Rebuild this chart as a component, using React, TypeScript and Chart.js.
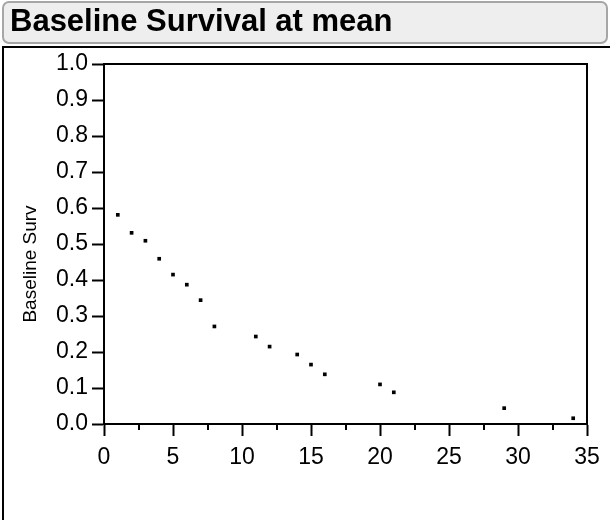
import React, { useEffect, useRef } from "react";
import { Chart, registerables } from "chart.js";

Chart.register(...registerables);

const timePoints = [1, 2, 3, 4, 5, 6, 7, 8, 11, 12, 14, 15, 16, 20, 21, 29, 34];
const survival = [0.581, 0.531, 0.509, 0.459, 0.415, 0.387, 0.344, 0.271, 0.243, 0.215, 0.193, 0.165, 0.138, 0.110, 0.088, 0.044, 0.016];
const xMinorTicks = [2.5, 7.5, 12.5, 17.5, 22.5, 27.5, 32.5];
const titleText = "Baseline Survival at mean";
const yAxisTitle = "Baseline Surv";

const FONT = '"Liberation Sans", Arial, Helvetica, sans-serif';

const framePlugin = {
  id: "frameAndMinor",
  afterDraw(chart: any) {
    const { ctx, chartArea, scales } = chart;
    ctx.save();
    ctx.strokeStyle = "#000";
    ctx.lineWidth = 2;
    // top and right frame lines
    ctx.beginPath();
    ctx.moveTo(chartArea.left, chartArea.top);
    ctx.lineTo(chartArea.right, chartArea.top);
    ctx.lineTo(chartArea.right, chartArea.bottom);
    ctx.stroke();
    // minor x ticks
    const xs = scales.x;
    ctx.beginPath();
    for (const v of xMinorTicks) {
      const px = Math.round(xs.getPixelForValue(v));
      ctx.moveTo(px, chartArea.bottom);
      ctx.lineTo(px, chartArea.bottom + 6);
    }
    ctx.stroke();
    // y axis title
    ctx.fillStyle = "#000";
    ctx.font = "19px " + FONT;
    ctx.textAlign = "center";
    ctx.textBaseline = "alphabetic";
    ctx.translate(36, 264);
    ctx.rotate(-Math.PI / 2);
    ctx.fillText(yAxisTitle, 0, 0);
    ctx.restore();
  },
};

export default function App() {
  const ref = useRef<HTMLCanvasElement | null>(null);

  useEffect(() => {
    if (!ref.current) return;
    const chart = new Chart(ref.current, {
      type: "scatter",
      data: {
        datasets: [
          {
            data: timePoints.map((t, i) => ({ x: t, y: survival[i] })),
            pointStyle: "rect",
            pointRadius: 2.6,
            pointBorderWidth: 0,
            backgroundColor: "#000",
            borderColor: "#000",
          },
        ],
      },
      options: {
        animation: false,
        responsive: false,
        maintainAspectRatio: false,
        layout: { padding: { top: 64, right: 23, left: 0, bottom: 0 } },
        plugins: {
          legend: { display: false },
          tooltip: { enabled: false },
          title: { display: false },
        },
        scales: {
          x: {
            type: "linear",
            min: 0,
            max: 35,
            afterFit: (s: any) => {
              s.height = 96;
            },
            ticks: {
              stepSize: 5,
              color: "#000",
              padding: 8,
              font: { family: FONT, size: 23 },
              maxRotation: 0,
            },
            grid: {
              drawOnChartArea: false,
              drawTicks: true,
              tickLength: 12,
              tickWidth: 2,
              tickColor: "#000",
            },
            border: { display: true, color: "#000", width: 2 },
          },
          y: {
            type: "linear",
            min: 0,
            max: 1,
            afterFit: (s: any) => {
              s.width = 104;
            },
            ticks: {
              stepSize: 0.1,
              color: "#000",
              padding: 4,
              font: { family: FONT, size: 23 },
              callback: (v: any) => Number(v).toFixed(1),
            },
            grid: {
              drawOnChartArea: false,
              drawTicks: true,
              tickLength: 12,
              tickWidth: 2,
              tickColor: "#000",
            },
            border: { display: true, color: "#000", width: 2 },
          },
        },
      },
      plugins: [framePlugin],
    });
    return () => chart.destroy();
  }, []);

  return (
    <div style={{ position: "absolute", left: 0, top: 0, width: 610, height: 520, overflow: "hidden", background: "#fff" }}>
      <div
        style={{
          position: "absolute",
          left: 2,
          top: 46,
          width: 640,
          height: 520,
          border: "2px solid #000",
          boxSizing: "border-box",
        }}
      />
      <canvas ref={ref} width={610} height={520} style={{ position: "absolute", left: 0, top: 0, width: 610, height: 520 }} />
      <div
        style={{
          position: "absolute",
          left: 2,
          top: 1,
          width: 606,
          height: 43,
          boxSizing: "border-box",
          border: "2px solid #a6a6a6",
          borderRadius: 7,
          background: "#eeeeee",
          fontFamily: FONT,
          fontWeight: "bold",
          fontSize: 31,
          lineHeight: "35px",
          paddingLeft: 6,
          color: "#000",
          whiteSpace: "nowrap",
        }}
      >
        {titleText}
      </div>
    </div>
  );
}
